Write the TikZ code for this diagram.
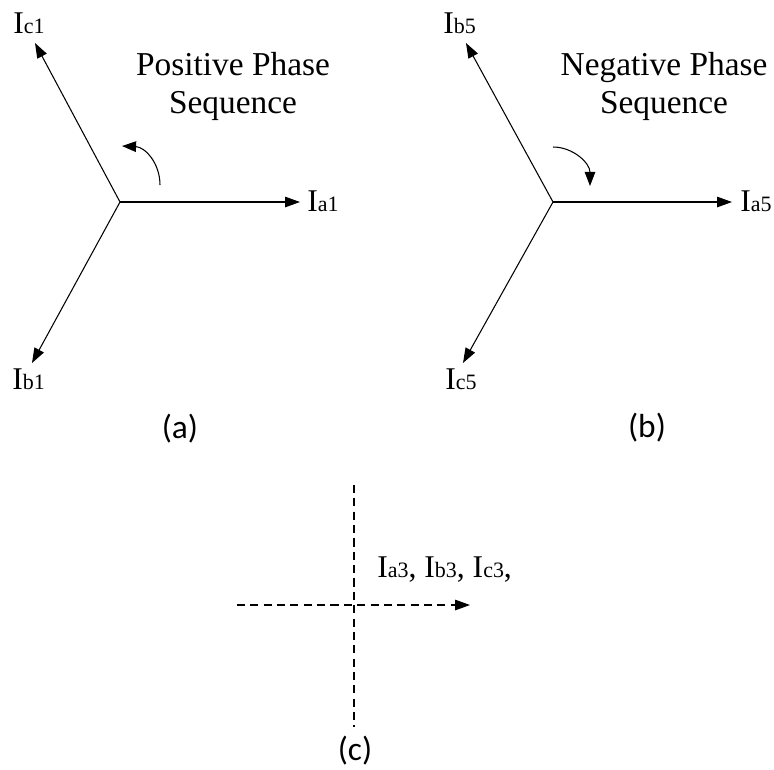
\documentclass[tikz,border=0pt]{standalone}
\usepackage{fontspec}
\setmainfont{Liberation Serif}
\newfontfamily\capfont{Carlito}
\usetikzlibrary{arrows.meta}
\newcommand\phsub[1]{{\fontsize{12.5}{14}\selectfont #1}}
\begin{document}
\begin{tikzpicture}[x={(0.02cm,0)}, y={(0,-0.02cm)},
  vec/.style={line width=0.6pt, -{Triangle[length=8.5pt,width=6pt]}},
  dvec/.style={vec, dash pattern=on 4.6pt off 3pt},
  dline/.style={line width=0.6pt, dash pattern=on 4.6pt off 3pt},
  rot/.style={line width=0.6pt, -{Triangle[length=8pt,width=6pt]}},
  lbl/.style={inner sep=0, anchor=base west, font=\fontsize{18}{20}\selectfont},
  ttl/.style={inner sep=0, anchor=base, align=center, font=\fontsize{19}{21.6}\selectfont},
  capt/.style={inner sep=0, anchor=base, font=\capfont\fontsize{19}{22}\selectfont}]
\useasboundingbox (0,0) rectangle (774,769);

% ---------- (a) positive sequence ----------
\coordinate (O1) at (120,202);
\coordinate (a1) at (300,202);
\coordinate (c1) at (35,43);
\coordinate (b1) at (32,363);
\draw[vec] (O1) -- (a1);
\draw[vec] (O1) -- (c1);
\draw[vec] (O1) -- (b1);
\node[lbl] (La1) at (307,211) {I\phsub{a1}};
\node[lbl] (Lc1) at (13,33) {I\phsub{c1}};
\node[lbl] (Lb1) at (12,389) {I\phsub{b1}};
\coordinate (r1s) at (160,185);
\coordinate (r1e) at (122,146);
\draw[rot] (r1s) .. controls (160,163) and (145,147) .. (r1e);
\node[ttl] (T1) at (233,113) {Positive Phase\\Sequence};
\node[capt] (Ca) at (180,438) {(a)};

% ---------- (b) negative sequence ----------
\coordinate (O2) at (553,202);
\coordinate (a5) at (732,202);
\coordinate (b5) at (466,43);
\coordinate (c5) at (463,363);
\draw[vec] (O2) -- (a5);
\draw[vec] (O2) -- (b5);
\draw[vec] (O2) -- (c5);
\node[lbl] (La5) at (740,211) {I\phsub{a5}};
\node[lbl] (Lb5) at (443,33) {I\phsub{b5}};
\node[lbl] (Lc5) at (445,389) {I\phsub{c5}};
\coordinate (r5s) at (553,147);
\coordinate (r5e) at (590,186);
\draw[rot] (r5s) .. controls (573,147) and (590,163) .. (r5e);
\node[ttl] (T5) at (664,113) {Negative Phase\\Sequence};
\node[capt] (Cb) at (647,437) {(b)};

% ---------- (c) zero sequence ----------
\coordinate (vt) at (354,485);
\coordinate (vb) at (354,727);
\coordinate (hl) at (237,605);
\coordinate (hr) at (470,605);
\draw[dline] (vt) -- (vb);
\draw[dvec] (hl) -- (hr);
\node[lbl] (L3) at (377,577) {I\phsub{a3}, I\phsub{b3}, I\phsub{c3},};
\node[capt] (Cc) at (355,760) {(c)};
\end{tikzpicture}
\end{document}
